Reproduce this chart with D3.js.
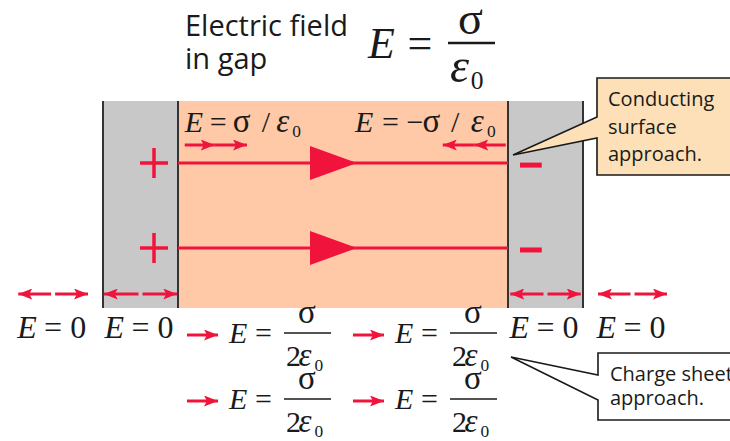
<!DOCTYPE html>
<html><head><meta charset="utf-8">
<script src="https://cdn.jsdelivr.net/npm/d3@7"></script>
<style>body{margin:0;background:#fff}svg{display:block}</style>
</head><body>
<script>
// ---------- data ----------
const regions = ["outside", "conductor", "gap", "conductor", "outside"];
const regionUnits = [[-2.0, -1.0], [-1, 0], [0, 4.4], [4.4, 5.4], [5.4, 6.4]];
const plateCharges = ["+", "\u2212"];
const fieldRows = [0.3, 0.71];
// glyph runs: [text, style, offset(em), scale]
const gapLabelLeft = [["E", "i", 0], ["=", "r", 0.83], ["\u03c3", "r", 1.6, 1.1], ["/", "r", 2.57], ["\u03b5", "i", 3.05, 1.1], ["0", "sub", 3.58]];
const gapLabelRight = [["E", "i", 0], ["=", "r", 0.9], ["\u2212", "r", 1.72], ["\u03c3", "r", 2.25, 1.1], ["/", "r", 3.2], ["\u03b5", "i", 3.86, 1.1], ["0", "sub", 4.4]];
const zeroLabel = [["E", "i", 0], ["=", "r", 0.84], ["0", "r", 1.66]];
const sheetRows = [0, 1];
const sheetColumns = [0, 1];
const titleLines = ["Electric field", "in gap"];
const calloutConducting = ["Conducting", "surface", "approach."];
const calloutSheet = ["Charge sheet", "approach."];

// ---------- setup ----------
const W = 730, H = 441;
const RED = "#f0143c", PEACH = "#ffc8a6", GRAY = "#c8c8c8", INK = "#1a1a1a";
const SERIF = "'Liberation Serif','Times New Roman',serif";
const SANS = "'Open Sans','Noto Sans',sans-serif";

const svg = d3.select("body").append("svg").attr("width", W).attr("height", H);
const x = d3.scaleLinear().domain([0, 1]).range([178, 253]);   // plate-thickness units
const y = d3.scaleLinear().domain([0, 1]).range([101, 308]);   // plate height fraction

const defs = svg.append("defs");
defs.append("marker").attr("id", "ah").attr("viewBox", "0 0 14 11")
  .attr("refX", 14).attr("refY", 5.5).attr("markerWidth", 14).attr("markerHeight", 11)
  .attr("markerUnits", "userSpaceOnUse").attr("orient", "auto")
  .append("path").attr("d", "M0,0L14,5.5L0,11L3,5.5Z").attr("fill", RED);

function arrow(x0, x1, yy) {
  svg.append("line").attr("x1", x0).attr("x2", x1).attr("y1", yy).attr("y2", yy)
    .attr("stroke", RED).attr("stroke-width", 3).attr("marker-end", "url(#ah)");
}

// glyph-placed math text
function math(sel, x0, y0, size, parts) {
  const t = sel.append("text").attr("y", y0)
    .attr("font-family", SERIF).attr("font-size", size).attr("fill", INK);
  parts.forEach(([s, k, o, sc]) => {
    const ts = t.append("tspan").text(s).attr("x", x0 + o * size).attr("y", y0);
    if (k === "i") ts.attr("font-style", "italic");
    if (sc) ts.attr("font-size", size * sc);
    if (k === "sub") ts.attr("font-size", size * 0.58).attr("y", y0 + size * 0.16);
  });
  return t;
}

// ---------- regions ----------
regions.forEach((r, i) => {
  const [u0, u1] = regionUnits[i];
  if (r === "outside") return;
  svg.append("rect").attr("x", x(u0)).attr("y", y(0)).attr("width", x(u1) - x(u0))
    .attr("height", y(1) - y(0)).attr("fill", r === "gap" ? PEACH : GRAY);
});
[-1, 0, 4.4, 5.4].forEach(u => {
  svg.append("line").attr("x1", x(u)).attr("x2", x(u)).attr("y1", y(0)).attr("y2", y(1))
    .attr("stroke", "#333").attr("stroke-width", 2);
});

// field lines and charges
fieldRows.forEach(f => {
  const yy = y(f);
  svg.append("line").attr("x1", x(0)).attr("x2", x(4.4)).attr("y1", yy).attr("y2", yy)
    .attr("stroke", RED).attr("stroke-width", 3);
  const tx = x(1.76), tl = 47, th = 17;
  svg.append("path").attr("d", `M${tx},${yy - th}L${tx + tl},${yy}L${tx},${yy + th}Z`).attr("fill", RED);
  const px = x(-0.32);
  svg.append("path").attr("d", `M${px - 14},${yy}H${px + 14}M${px},${yy - 15}V${yy + 15}`)
    .attr("stroke", RED).attr("stroke-width", 3.5).attr("fill", "none");
  svg.append("line").attr("x1", x(4.56)).attr("x2", x(4.85)).attr("y1", yy + 2).attr("y2", yy + 2)
    .attr("stroke", RED).attr("stroke-width", 5);
});

// gap labels and small arrows
math(svg, x(0.09), 132, 30, gapLabelLeft);
math(svg, x(2.36), 132, 30, gapLabelRight);
arrow(x(0.09), x(0.49), 145); arrow(x(0.49), x(0.92), 145);
arrow(x(4.37), x(3.95), 145); arrow(x(3.95), x(3.53), 145);

// double arrows at bottom row & E=0 labels
const pairs = [[-2.13, -1.2], [-0.99, -0.01], [4.43, 5.37], [5.6, 6.52]];
pairs.forEach(([a, b]) => {
  const c = (x(a) + x(b)) / 2;
  arrow(c - 2, x(a), 294); arrow(c + 2, x(b), 294);
  math(svg, c - 36, 338, 32, zeroLabel);
});

// sheet approach fractions
const colX = [187, 353];
sheetRows.forEach(r => {
  const base = 343 + r * 66;
  sheetColumns.forEach(cI => {
    const ax = colX[cI];
    arrow(ax, ax + 31, base - 8);
    math(svg, ax + 42, base, 30, [["E", "i", 0], ["=", "r", 0.87]]);
    const b0 = ax + 97, b1 = ax + 144, bar = base - 10;
    svg.append("line").attr("x1", b0).attr("x2", b1).attr("y1", bar).attr("y2", bar)
      .attr("stroke", INK).attr("stroke-width", 1.6);
    math(svg, b0 + 14, bar - 10, 30, [["\u03c3", "r", 0, 1.1]]);
    math(svg, b0 + 2, bar + 33, 30, [["2", "r", 0], ["\u03b5", "i", 0.42, 1.1], ["0", "sub", 0.95]]);
  });
});

// title
titleLines.forEach((t, i) => {
  svg.append("text").attr("x", 185).attr("y", 36 + i * 33).attr("font-family", SANS)
    .attr("font-size", 29).attr("fill", INK).text(t);
});
math(svg, 368, 58, 44, [["E", "i", 0], ["=", "r", 0.9]]);
svg.append("line").attr("x1", 448).attr("x2", 495).attr("y1", 43).attr("y2", 43)
  .attr("stroke", INK).attr("stroke-width", 2.4);
math(svg, 458, 34, 44, [["\u03c3", "r", 0, 1.05]]);
math(svg, 450, 82, 44, [["\u03b5", "i", 0, 1.1], ["0", "sub", 0.47]]);

// callouts
svg.append("path").attr("d", "M597,78H745V175H597V138L513,155L597,117Z")
  .attr("fill", "#fde0b8").attr("stroke", INK).attr("stroke-width", 1.6);
calloutConducting.forEach((t, i) => {
  svg.append("text").attr("x", 608).attr("y", 106 + i * 27.5).attr("font-family", SANS)
    .attr("font-size", 20).attr("fill", INK).text(t);
});
svg.append("path").attr("d", "M598,353H745V420H598V400L511,357L598,375Z")
  .attr("fill", "#fff").attr("stroke", INK).attr("stroke-width", 1.6);
calloutSheet.forEach((t, i) => {
  svg.append("text").attr("x", 610).attr("y", 381 + i * 24).attr("font-family", SANS)
    .attr("font-size", 20).attr("fill", INK).text(t);
});
</script>
</body></html>
